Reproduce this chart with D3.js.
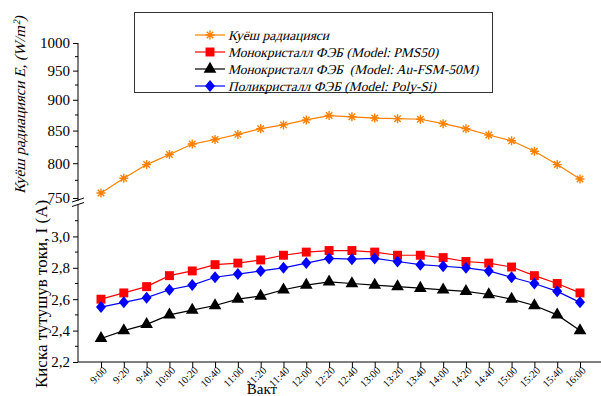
<!DOCTYPE html>
<html lang="uz">
<head>
<meta charset="UTF-8">
<title>Chart</title>
<script src="https://d3js.org/d3.v7.min.js"></script>
<style>
    body { margin: 0; background: #fff; }
    svg, svg text { font-family: "Liberation Serif", "Times New Roman", "DejaVu Serif", serif !important; }
</style>
</head>
<body>
<svg width="601" height="396"></svg>
<script>
    // data
    const times = ["9:00","9:20","9:40","10:00","10:20","10:40","11:00","11:20","11:40","12:00","12:20",
                   "12:40","13:00","13:20","13:40","14:00","14:20","14:40","15:00","15:20","15:40","16:00"];
    const radiation = [757, 778, 798, 813, 829, 836, 844, 853, 859, 867, 874, 872, 870, 869, 868, 861, 853, 843, 834, 818, 798, 777];
    const monoPMS = [2.60, 2.64, 2.68, 2.75, 2.78, 2.82, 2.83, 2.85, 2.88, 2.90, 2.91, 2.91, 2.90, 2.88, 2.88, 2.865, 2.84, 2.83, 2.805, 2.75, 2.70, 2.64];
    const monoAu = [2.35, 2.40, 2.44, 2.50, 2.53, 2.56, 2.60, 2.62, 2.66, 2.69, 2.71, 2.70, 2.69, 2.68, 2.67, 2.66, 2.65, 2.63, 2.60, 2.56, 2.50, 2.40];
    const poly = [2.55, 2.58, 2.61, 2.66, 2.69, 2.74, 2.76, 2.78, 2.80, 2.83, 2.86, 2.855, 2.86, 2.84, 2.82, 2.81, 2.80, 2.78, 2.74, 2.70, 2.65, 2.58];
    const topTicks = [750, 800, 850, 900, 950, 1000];
    const topMinor = [775, 825, 875, 925, 975];
    const botTicks = [2.2, 2.4, 2.6, 2.8, 3.0];
    const botMinor = [2.3, 2.5, 2.7, 2.9, 3.1];
    const legendNames = ["Куёш радиацияси", "Монокристалл ФЭБ (Model: PMS50)",
                         "Монокристалл ФЭБ  (Model: Au-FSM-50M)", "Поликристалл ФЭБ (Model: Poly-Si)"];

    const svg = d3.select("svg");
    const axisX = 78;
    const slant = "skewX(-14)";   // fake italic, serif italic face is not installed

    // scales
    const x = d3.scalePoint().domain(times).range([101, 580]);
    const yTop = d3.scaleLog().domain([750, 1000]).range([198, 43]);
    const yBot = d3.scaleLinear().domain([2.2, 3.2]).range([362, 205]);

    // left axes
    const topAxis = svg.append("g").attr("transform", `translate(${axisX},0)`)
        .call(d3.axisLeft(yTop).tickValues(topTicks).tickFormat(d3.format("d")).tickSize(5).tickPadding(3));
    topAxis.select(".domain").attr("d", `M0,${yTop(1000)}V201`);
    topAxis.selectAll(".minor").data(topMinor).enter().append("line")
        .attr("class", "minor").attr("x2", -3).attr("y1", d => yTop(d)).attr("y2", d => yTop(d)).attr("stroke", "#000");

    const botAxis = svg.append("g").attr("transform", `translate(${axisX},0)`)
        .call(d3.axisLeft(yBot).tickValues(botTicks).tickFormat(d => d.toFixed(1).replace(".", ",")).tickSize(5).tickPadding(3));
    botAxis.select(".domain").attr("d", `M0,205V${yBot(2.2)}`);
    botAxis.selectAll(".minor").data(botMinor).enter().append("line")
        .attr("class", "minor").attr("x2", -3).attr("y1", d => yBot(d)).attr("y2", d => yBot(d)).attr("stroke", "#000");

    svg.selectAll(".tick text").attr("font-size", 15);

    // break marks
    [200, 204.5].forEach(yy => {
        svg.append("line").attr("x1", axisX - 6).attr("y1", yy + 2).attr("x2", axisX + 6).attr("y2", yy - 2)
            .attr("stroke", "#000").attr("stroke-width", 1);
    });

    // bottom axis
    const xAxis = svg.append("g").attr("transform", `translate(0,${yBot(2.2)})`)
        .call(d3.axisBottom(x).tickSize(6).tickFormat(""));
    xAxis.select(".domain").attr("d", `M${axisX},0H601`);
    xAxis.selectAll(".tick").append("text")
        .attr("transform", "translate(6,9) rotate(-45)")
        .attr("text-anchor", "end")
        .attr("fill", "#000")
        .attr("font-size", 10.5)
        .text(d => d);

    // axis titles
    svg.append("text").attr("x", 262).attr("y", 394).attr("text-anchor", "middle")
        .attr("font-size", 15).text("Вакт");

    const t1 = svg.append("text").attr("transform", `translate(25,105) rotate(-90) ${slant}`)
        .attr("text-anchor", "middle").attr("font-size", 15);
    t1.append("tspan").text("Куёш радиацияси E, (W/m");
    t1.append("tspan").attr("dy", -5).attr("font-size", 10).text("2");
    t1.append("tspan").attr("dy", 5).text(")");

    svg.append("text").attr("transform", "translate(47,294) rotate(-90)")
        .attr("text-anchor", "middle").attr("font-size", 17)
        .text("Киска тутушув токи, I (A)");

    // marker drawers
    function star(g, cx, cy, color) {
        const r = 4.5, d = r * 0.72;
        g.append("path")
            .attr("d", `M${cx - r},${cy}H${cx + r}M${cx},${cy - r}V${cy + r}M${cx - d},${cy - d}L${cx + d},${cy + d}M${cx - d},${cy + d}L${cx + d},${cy - d}`)
            .attr("stroke", color).attr("stroke-width", 1.4).attr("fill", "none");
    }
    function sym(type, size) {
        return (g, cx, cy, color) => g.append("path")
            .attr("d", d3.symbol().type(type).size(size)())
            .attr("transform", `translate(${cx},${cy})`)
            .attr("fill", color);
    }
    const square = sym(d3.symbolSquare, 80);
    const triangle = sym(d3.symbolTriangle, 70);
    const diamond = (g, cx, cy, color) => g.append("path")
        .attr("d", "M0,-6L5,0L0,6L-5,0Z")
        .attr("transform", `translate(${cx},${cy})`)
        .attr("fill", color);

    const series = [
        { values: radiation, y: yTop, color: "#ff8000", marker: star },
        { values: monoPMS, y: yBot, color: "#ff0000", marker: square },
        { values: monoAu, y: yBot, color: "#000000", marker: triangle },
        { values: poly, y: yBot, color: "#0000ff", marker: diamond }
    ];

    series.forEach(s => {
        const line = d3.line().x((d, i) => x(times[i])).y(d => s.y(d));
        svg.append("path").datum(s.values).attr("d", line)
            .attr("fill", "none").attr("stroke", s.color).attr("stroke-width", 1.2);
        const g = svg.append("g");
        s.values.forEach((v, i) => s.marker(g, x(times[i]), s.y(v), s.color));
    });

    // legend
    const leg = svg.append("g");
    leg.append("rect").attr("x", 134.5).attr("y", 12.5).attr("width", 358).attr("height", 80)
        .attr("fill", "#fff").attr("stroke", "#333").attr("stroke-width", 1);
    legendNames.forEach((name, i) => {
        const yy = 35 + i * 17;
        const s = series[i];
        leg.append("line").attr("x1", 195).attr("x2", 225).attr("y1", yy).attr("y2", yy)
            .attr("stroke", s.color).attr("stroke-width", 1.2);
        s.marker(leg, 210, yy, s.color);
        leg.append("text").attr("transform", `translate(228,${yy + 5}) ${slant}`)
            .attr("font-size", 13.5).style("white-space", "pre").text(name);
    });
</script>
</body>
</html>
